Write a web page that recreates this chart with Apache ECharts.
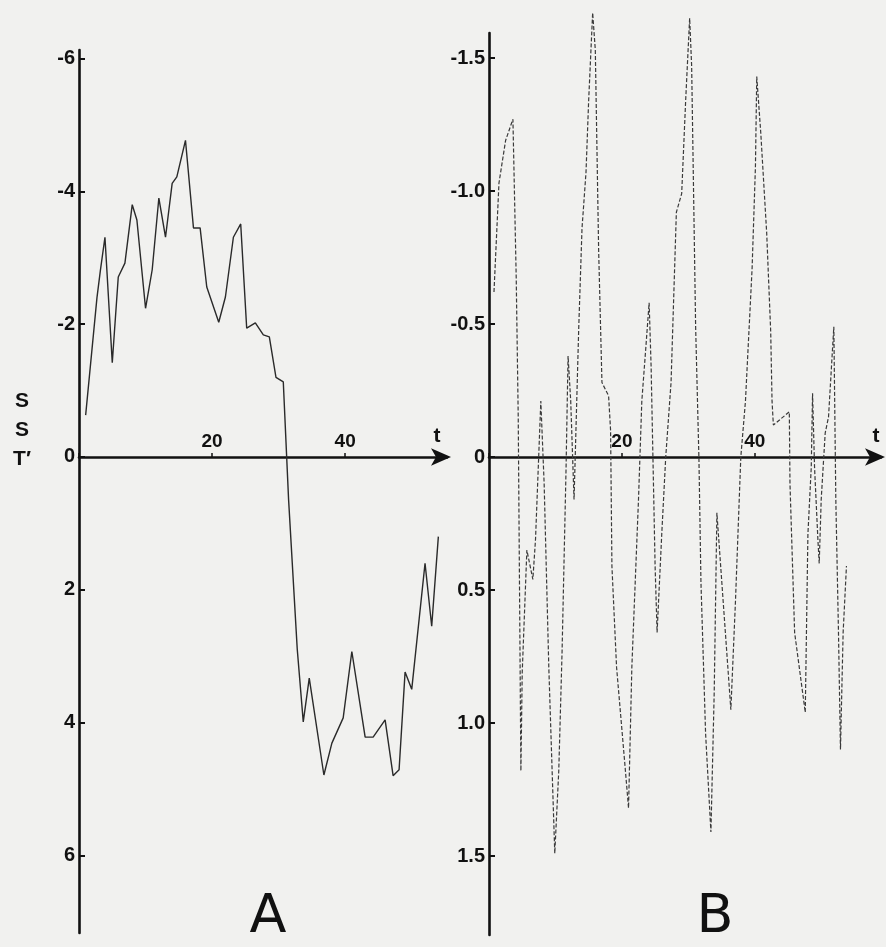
<!DOCTYPE html>
<html>
<head>
<meta charset="utf-8">
<script src="https://cdn.jsdelivr.net/npm/echarts@6/dist/echarts.min.js"></script>
<style>
html,body{margin:0;padding:0;background:#f1f1ef;}
#chart{width:886px;height:947px;}
</style>
</head>
<body>
<div id="chart"></div>
<script>
// Panel A: SST' anomaly (degrees), y axis inverted (negative up)
const tA = [1.0,2.7,3.2,3.9,5.0,5.9,6.9,8.0,8.7,10.0,11.0,12.0,13.0,14.0,14.7,16.0,17.2,18.2,19.2,21.0,22.0,23.2,24.3,25.2,26.5,27.7,28.6,29.6,30.7,31.5,32.8,33.7,34.6,36.8,38.0,39.7,41.0,43.0,44.2,46.0,47.2,48.1,49.0,50.0,52.0,53.0,54.0];
const sstA = [-0.63,-2.4,-2.8,-3.31,-1.42,-2.71,-2.92,-3.8,-3.57,-2.24,-2.82,-3.9,-3.31,-4.12,-4.22,-4.77,-3.45,-3.45,-2.56,-2.03,-2.41,-3.31,-3.51,-1.94,-2.02,-1.84,-1.81,-1.2,-1.13,0.65,2.9,3.99,3.33,4.79,4.31,3.93,2.93,4.22,4.22,3.96,4.8,4.71,3.24,3.5,1.6,2.55,1.2];

// Panel B
const tB = [0.75,1.5,2.5,3.6,4.1,4.4,4.8,5.0,5.7,6.6,7.0,7.8,8.3,9.0,9.9,10.5,11.0,11.6,11.9,12.3,12.8,13.5,14.0,14.6,15.0,15.6,16.0,16.5,17.0,18.0,18.3,18.5,19.2,20.5,21.0,21.5,22.5,23.0,23.6,24.1,24.4,25.0,25.3,26.0,26.6,27.4,28.2,29.0,29.6,30.2,30.5,31.1,31.6,31.9,32.6,33.4,33.9,34.3,36.4,37.1,37.9,38.6,39.6,40.1,40.3,40.9,41.8,42.4,42.6,42.8,45.2,45.3,46.0,47.6,48.0,48.5,48.7,49.0,49.5,49.7,50.0,50.6,51.1,51.9,52.2,52.6,52.9,53.3,53.8];
const sstB = [-0.62,-1.03,-1.19,-1.27,-0.67,-0.15,1.18,0.81,0.35,0.46,0.31,-0.21,0.1,0.79,1.49,1.18,0.73,0.04,-0.38,-0.21,0.16,-0.48,-0.86,-1.07,-1.34,-1.67,-1.53,-0.78,-0.28,-0.23,-0.1,0.41,0.79,1.17,1.32,0.79,0.16,-0.21,-0.41,-0.58,-0.34,0.41,0.66,0.29,0,-0.28,-0.92,-0.99,-1.34,-1.65,-1.47,-0.49,0.01,0.47,1.04,1.41,0.88,0.21,0.95,0.54,0,-0.21,-0.71,-1.09,-1.43,-1.22,-0.84,-0.47,-0.21,-0.12,-0.17,0.1,0.66,0.96,0.29,0.04,-0.24,0.04,0.31,0.4,0.16,-0.09,-0.15,-0.49,0.16,0.66,1.1,0.66,0.41];

const xTickStep = 20;
const yTicksA = [-6, -4, -2, 0, 2, 4, 6];
const yTicksB = [-1.5, -1.0, -0.5, 0, 0.5, 1.0, 1.5];

const FONT = 'Liberation Sans';
const INK = '#111';

const gridA = { left: 79, right: 439, top: 50, height: 883 };
const gridB = { left: 489, right: 5, top: 33, height: 902 };
const yRangeA = [-6.13, 7.17];
const yRangeB = [-1.594, 1.797];

// offset that lifts a bottom x axis up to the y = 0 line of an inverted y axis
function zeroOffset(range, h) { return -(range[1] / (range[1] - range[0])) * h; }

function xAxisCfg(gridIndex, max, offset) {
  return {
    gridIndex, type: 'value', min: 0, max: max, interval: xTickStep,
    position: 'bottom', offset: offset,
    axisLine: { onZero: false, lineStyle: { color: INK, width: 2.6 }, symbol: ['none', 'arrow'], symbolSize: [13, 20], symbolOffset: [0, 4] },
    axisTick: { show: true, inside: true, length: 4, lineStyle: { color: INK, width: 1.5 } },
    axisLabel: { show: true, inside: true, margin: 6, showMaxLabel: false, color: INK, fontFamily: FONT, fontWeight: 'bold', fontSize: 19,
                 formatter: v => (v === 0 ? '' : String(v)) },
    splitLine: { show: false }
  };
}
function yAxisCfg(gridIndex, range, ticks, fmt) {
  return {
    gridIndex, type: 'value', inverse: true, min: range[0], max: range[1],
    axisLine: { show: true, onZero: false, lineStyle: { color: INK, width: 2.6 } },
    axisTick: { show: true, inside: true, length: 6, customValues: ticks, lineStyle: { color: INK, width: 2 } },
    axisLabel: { show: true, customValues: ticks, margin: 4, color: INK, fontFamily: FONT, fontWeight: 'bold', fontSize: 20, formatter: fmt },
    splitLine: { show: false }
  };
}

const chart = echarts.init(document.getElementById('chart'), null, { renderer: 'canvas' });
chart.setOption({
  backgroundColor: '#f1f1ef',
  animation: false,
  grid: [gridA, gridB],
  xAxis: [
    xAxisCfg(0, 55.3, zeroOffset(yRangeA, gridA.height)),
    xAxisCfg(1, 59, zeroOffset(yRangeB, gridB.height))
  ],
  yAxis: [
    yAxisCfg(0, yRangeA, yTicksA, v => String(v)),
    yAxisCfg(1, yRangeB, yTicksB, v => v === 0 ? '0' : v.toFixed(1))
  ],
  series: [
    { type: 'line', xAxisIndex: 0, yAxisIndex: 0, clip: false, data: tA.map((t, i) => [t, sstA[i]]), showSymbol: false, lineStyle: { color: '#2a2a2a', width: 1.4 } },
    { type: 'line', xAxisIndex: 1, yAxisIndex: 1, clip: false, data: tB.map((t, i) => [t, sstB[i]]), showSymbol: false, lineStyle: { color: '#3a3a3a', width: 1.2, type: [4, 2] } }
  ],
  graphic: [
    { type: 'text', x: 22, y: 430, style: { text: 'S\nS\nT′', fill: INK, font: 'bold 21px "Liberation Sans"', textAlign: 'center', textVerticalAlign: 'middle', lineHeight: 29 } },
    { type: 'text', x: 437, y: 436, style: { text: 't', fill: INK, font: 'bold 21px "Liberation Sans"', textAlign: 'center', textVerticalAlign: 'middle' } },
    { type: 'text', x: 876, y: 436, style: { text: 't', fill: INK, font: 'bold 21px "Liberation Sans"', textAlign: 'center', textVerticalAlign: 'middle' } },
    { type: 'text', x: 268, y: 918, style: { text: 'A', fill: INK, font: '54px "DejaVu Sans"', textAlign: 'center', textVerticalAlign: 'middle' } },
    { type: 'text', x: 715, y: 918, style: { text: 'B', fill: INK, font: '54px "DejaVu Sans"', textAlign: 'center', textVerticalAlign: 'middle' } }
  ]
});
</script>
</body>
</html>
